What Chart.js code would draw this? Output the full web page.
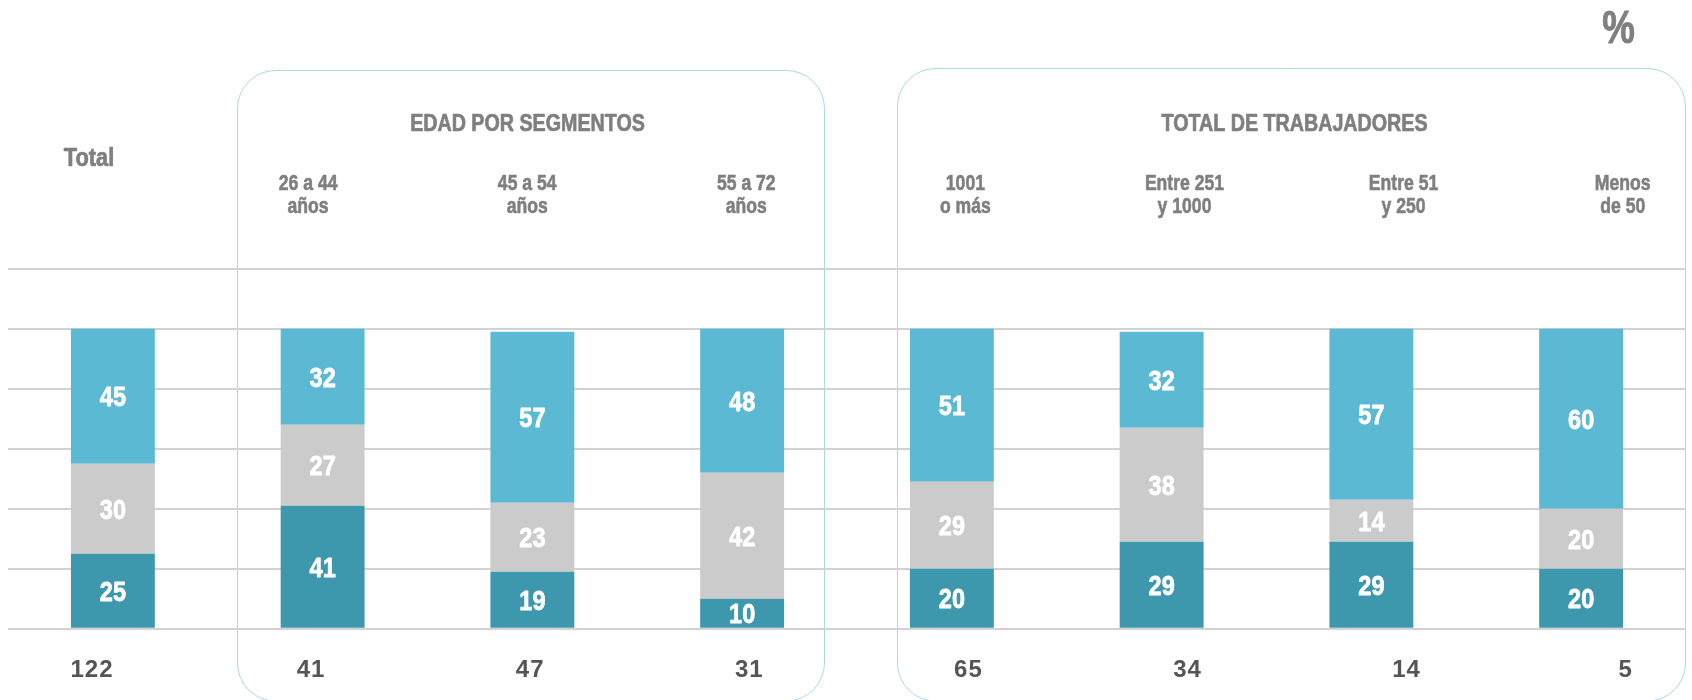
<!DOCTYPE html>
<html><head><meta charset="utf-8">
<script src="https://cdn.jsdelivr.net/npm/chart.js@4.4.0/dist/chart.umd.min.js"></script>
<style>html,body{margin:0;padding:0;background:#fff;overflow:hidden}#wrap{width:1692px;height:700px;position:relative}</style>
</head><body><div id="wrap"><canvas id="c" width="1692" height="700"></canvas></div>
<script>
// ---- data ----
const categoryLabels = [["Total"],["26 a 44","años"],["45 a 54","años"],["55 a 72","años"],["1001","o más"],["Entre 251","y 1000"],["Entre 51","y 250"],["Menos","de 50"]];
const groupTitles = ["EDAD POR SEGMENTOS","TOTAL DE TRABAJADORES"];
const seriesDark  = [25,41,19,10,20,29,29,20];
const seriesGray  = [30,27,23,42,29,38,14,20];
const seriesLight = [45,32,57,48,51,32,57,60];
const baseCounts  = [122,41,47,31,65,34,14,5];
const yTicks = [0,20,40,60,80,100,120];
const unitLabel = "%";

// ---- styles / layout ----
const SANS = '"Liberation Sans",Arial,sans-serif';
const colors = {dark:'#3d97ad', gray:'#cbcbcb', light:'#5cb9d3', text:'#7f7f7f', count:'#555555', box:'#a9d9e7', grid:'#d2d2d2'};
const textCol0 = 89, textStep = 219.1;
const boxes = [{x0:237.5,x1:824.5,y0:70.5,title:0,tx:527.5},{x0:897.5,x1:1685.5,y0:68.5,title:1,tx:1294.5}];

// condensed heavy text: Liberation Sans Bold squeezed horizontally, slightly emboldened
function narrowText(ctx,text,x,y,size,sx,heavy){
  ctx.save();
  ctx.translate(x,y);
  ctx.scale(sx,1);
  ctx.font='bold '+size+'px '+SANS;
  ctx.textAlign='center';
  ctx.textBaseline='alphabetic';
  ctx.fillText(text,0,0);
  if(heavy){ctx.strokeStyle=ctx.fillStyle;ctx.lineWidth=heavy;ctx.lineJoin='round';ctx.strokeText(text,0,0);}
  ctx.restore();
}

function roundedBox(ctx,x0,y0,x1,y1,r){
  ctx.beginPath();
  ctx.moveTo(x0,y1-r);
  ctx.lineTo(x0,y0+r);
  ctx.arcTo(x0,y0,x0+r,y0,r);
  ctx.lineTo(x1-r,y0);
  ctx.arcTo(x1,y0,x1,y0+r,r);
  ctx.lineTo(x1,y1-r);
  ctx.arcTo(x1,y1,x1-r,y1,r);
  ctx.lineTo(x0+r,y1);
  ctx.arcTo(x0,y1,x0,y1-r,r);
  ctx.closePath();
  ctx.stroke();
}

const decor = {
  id:'decor',
  beforeDraw(chart){
    const ctx = chart.ctx;
    ctx.save();
    ctx.fillStyle='#fff';ctx.fillRect(0,0,chart.width,chart.height);
    ctx.strokeStyle=colors.box;ctx.lineWidth=1;
    boxes.forEach(b=>roundedBox(ctx,b.x0,b.y0,b.x1,701,38));
    ctx.restore();
  },
  afterDatasetsDraw(chart){
    const ctx = chart.ctx;
    ctx.save();
    ctx.fillStyle='#fff';
    chart.data.datasets.forEach((ds,di)=>{
      chart.getDatasetMeta(di).data.forEach((el,i)=>{
        const y=(el.y+el.base)/2;
        narrowText(ctx,String(ds.data[i]),el.x,y+10,28,0.84,0.8);
      });
    });
    ctx.restore();
  },
  afterDraw(chart){
    const ctx = chart.ctx;
    ctx.save();
    ctx.fillStyle=colors.text;
    narrowText(ctx,unitLabel,1618.5,43,47,0.78,1);
    boxes.forEach(b=>narrowText(ctx,groupTitles[b.title],b.tx,131,24,0.82,0.7));
    categoryLabels.forEach((lines,i)=>{
      const x=textCol0+textStep*i;
      if(lines.length===1){
        narrowText(ctx,lines[0],x,166,26,0.84,0.7);
      } else {
        lines.forEach((t,k)=>narrowText(ctx,t,x,190+23*k,22,0.8,0.6));
      }
    });
    ctx.fillStyle=colors.count;
    ctx.font='bold 24px '+SANS;
    ctx.textAlign='center';ctx.textBaseline='alphabetic';
    try{ctx.letterSpacing='1px';}catch(e){}
    baseCounts.forEach((v,i)=>{
      ctx.fillText(String(v),textCol0+textStep*i+3,677);
    });
    ctx.restore();
  }
};

new Chart(document.getElementById('c'),{
  type:'bar',
  data:{
    labels:categoryLabels.map(l=>l.join(' ')),
    datasets:[
      {label:'a',data:seriesDark,backgroundColor:colors.dark},
      {label:'b',data:seriesGray,backgroundColor:colors.gray},
      {label:'c',data:seriesLight,backgroundColor:colors.light}
    ]
  },
  options:{
    responsive:false,animation:false,devicePixelRatio:1,
    layout:{padding:{top:268.7,bottom:71.3,left:8,right:6}},
    datasets:{bar:{barPercentage:0.4,categoryPercentage:1,borderWidth:0}},
    plugins:{legend:{display:false},tooltip:{enabled:false}},
    scales:{
      x:{stacked:true,display:false,offset:true},
      y:{stacked:true,min:yTicks[0],max:yTicks[yTicks.length-1],
        afterBuildTicks(s){s.ticks=yTicks.map(v=>({value:v}));},
        ticks:{display:false},
        border:{display:false},
        grid:{color:colors.grid,lineWidth:2,drawTicks:false}
      }
    }
  },
  plugins:[decor]
});
</script></body></html>
